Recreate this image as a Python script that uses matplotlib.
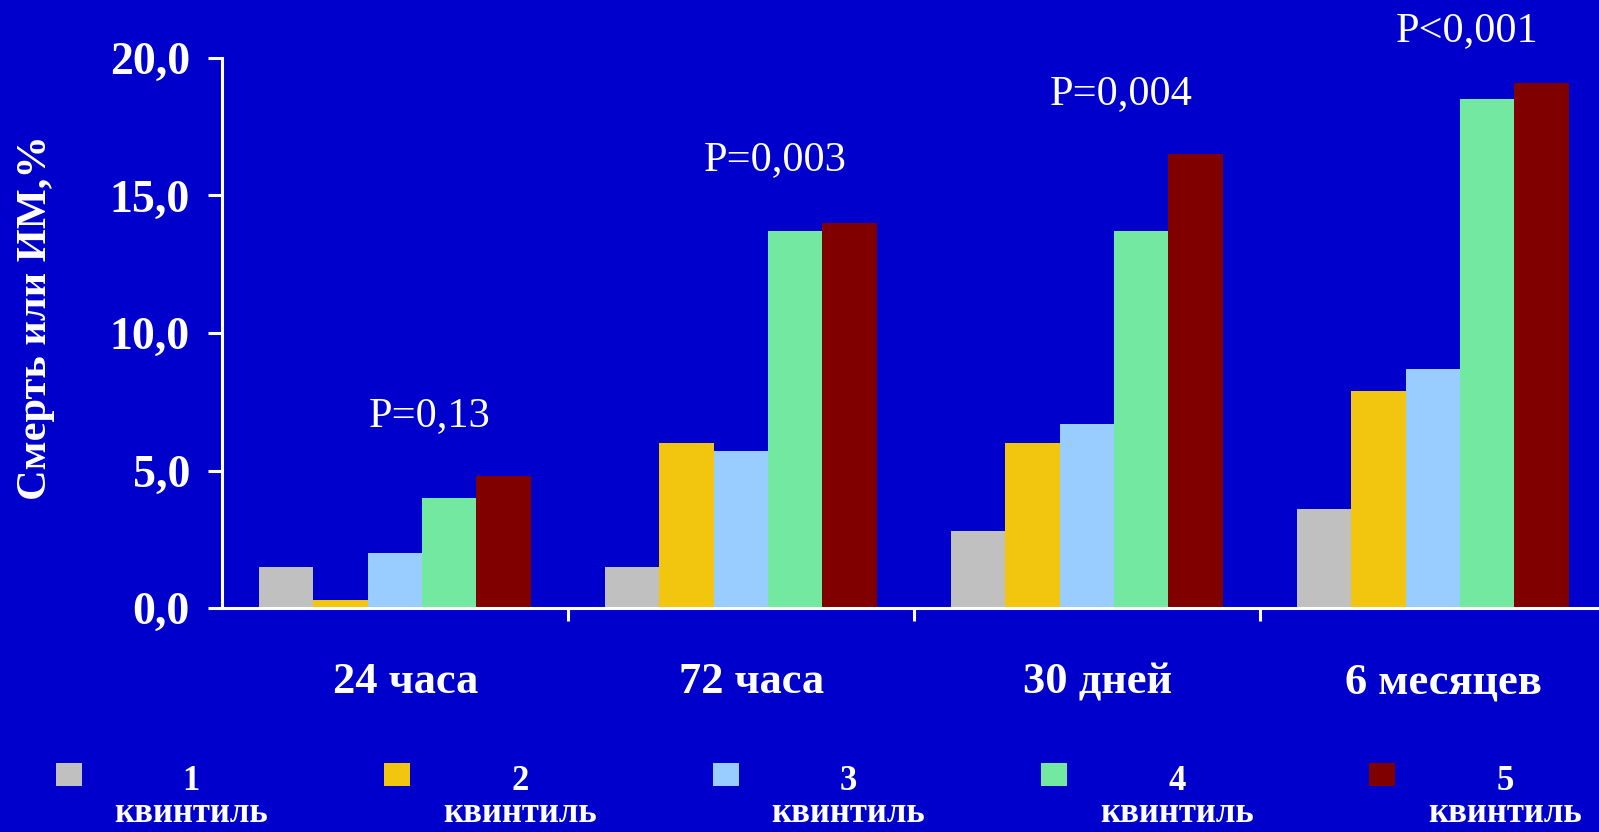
import numpy as np
import matplotlib.pyplot as plt
from matplotlib.patches import Rectangle

# death or MI rate (%) by quintile at each follow-up point
periods = ["24 часа", "72 часа", "30 дней", "6 месяцев"]
q1 = [1.5, 1.5, 2.8, 3.6]
q2 = [0.3, 6.0, 6.0, 7.9]
q3 = [2.0, 5.7, 6.7, 8.7]
q4 = [4.0, 13.7, 13.7, 18.5]
q5 = [4.8, 14.0, 16.5, 19.1]
p_labels = ["P=0,13", "P=0,003", "P=0,004", "P<0,001"]
p_heights = [7.0, 16.3, 18.7, 21.0]
quintiles = ["1", "2", "3", "4", "5"]

colors = ["#C0C0C0", "#F2C60F", "#99CCFF", "#72E8A0", "#800000"]
bg = "#0000CC"
serif = ["Liberation Serif", "DejaVu Serif"]

plt.rcParams['font.family'] = serif

fig = plt.figure(figsize=(15.99, 8.32), dpi=100, facecolor=bg)
ax = fig.add_axes([0.1388, 0.2692, 0.8612, 0.6611], facecolor=bg)

x = np.arange(len(periods))
w = 0.157
for i, vals in enumerate([q1, q2, q3, q4, q5]):
    ax.bar(x + (i - 2) * w, vals, width=w, color=colors[i], linewidth=0)

for xi, lab, h in zip(x, p_labels, p_heights):
    ax.text(xi + 0.1, h, lab, ha='center', va='center', color='white',
            fontsize=30.5, clip_on=False)

ax.set_xlim(-0.5, 3.48)
ax.set_ylim(0, 20)

for s in ['top', 'right']:
    ax.spines[s].set_visible(False)
for s in ['left', 'bottom']:
    ax.spines[s].set_color('white')
    ax.spines[s].set_linewidth(2.2)

ax.set_yticks([0, 5, 10, 15, 20])
ax.set_yticklabels(["0,0", "5,0", "10,0", "15,0", "20,0"])
ax.tick_params(axis='y', colors='white', length=10, width=2.2, pad=13,
               labelsize=33)
for t in ax.get_yticklabels():
    t.set_fontweight('bold')

# boundaries between groups get the ticks, group names sit on minor ticks
ax.set_xticks([0.5, 1.5, 2.5])
ax.set_xticklabels([])
ax.tick_params(axis='x', which='major', colors='white', length=9, width=2.2)
ax.set_xticks(x + 0.03, minor=True)
ax.set_xticklabels(periods, minor=True)
ax.tick_params(axis='x', which='minor', length=0, pad=39, labelsize=32,
               labelcolor='white')
for t in ax.get_xticklabels(minor=True):
    t.set_fontweight('bold')

fig.text(36 / 1599, 1 - 318 / 832, "Смерть или ИМ,%", rotation=90,
         ha='center', va='center', color='white', fontsize=30.5,
         fontweight='bold')

# legend row along the bottom
sq_left = [56, 384, 713, 1041, 1369]
txt_center = [191, 520, 848, 1177, 1505]
for i, q in enumerate(quintiles):
    fig.add_artist(Rectangle((sq_left[i] / 1599, 1 - 786 / 832),
                             26 / 1599, 23 / 832, transform=fig.transFigure,
                             facecolor=colors[i], edgecolor='none'))
    fig.text(txt_center[i] / 1599, 1 - 781 / 832, q, ha='center',
             va='center', color='white', fontsize=25, fontweight='bold')
    fig.text(txt_center[i] / 1599, 1 - 813 / 832, "квинтиль", ha='center',
             va='center', color='white', fontsize=25, fontweight='bold')

fig.savefig("out.png", dpi=100, facecolor=bg)
